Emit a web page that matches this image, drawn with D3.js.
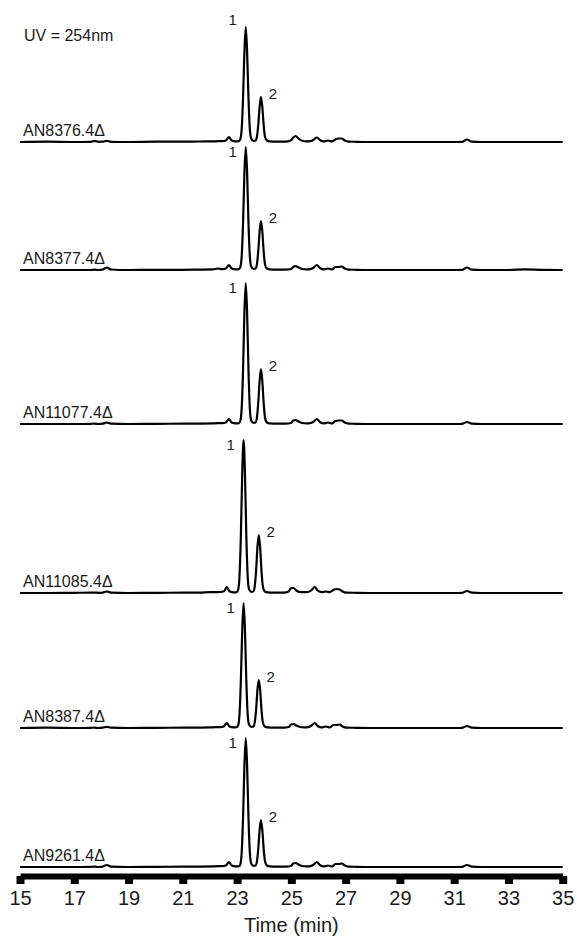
<!DOCTYPE html>
<html>
<head>
<meta charset="utf-8">
<script src="https://cdn.jsdelivr.net/npm/d3@7"></script>
<style>
  body { margin: 0; background: #fff; }
  svg { display: block; font-family: "Liberation Sans", Arial, sans-serif; }
</style>
</head>
<body>
<svg id="chart"></svg>
<script>
const TIME_A = [15, 16, 17, 17.6, 17.75, 17.9, 18.05, 18.2, 18.35, 19, 20, 21, 21.6,
  22.1, 22.3, 22.45, 22.6, 22.7, 22.8, 22.95, 23.07, 23.12, 23.17, 23.22, 23.27, 23.32,
  23.37, 23.42, 23.47, 23.52, 23.6, 23.68, 23.73, 23.78, 23.83, 23.88, 23.93, 23.98,
  24.03, 24.1, 24.2, 24.45, 24.8, 24.98, 25.07, 25.16, 25.26, 25.4, 25.55, 25.7, 25.83,
  25.94, 26.05, 26.2, 26.35, 26.5, 26.62, 26.75, 26.86, 26.97, 27.1, 27.4, 28, 29, 30,
  31, 31.3, 31.47, 31.65, 32, 33, 33.6, 34.2, 35];
// same grid, cluster eluting slightly earlier (AN11085, AN8387)
const TIME_B = [15, 16, 17, 17.6, 17.75, 17.9, 18.05, 18.2, 18.35, 19, 20, 21, 21.6,
  22.02, 22.22, 22.37, 22.52, 22.62, 22.72, 22.87, 22.99, 23.04, 23.09, 23.14, 23.19, 23.24,
  23.29, 23.34, 23.39, 23.44, 23.52, 23.6, 23.65, 23.7, 23.75, 23.8, 23.85, 23.9,
  23.95, 24.02, 24.12, 24.37, 24.72, 24.9, 24.99, 25.08, 25.18, 25.32, 25.47, 25.62, 25.75,
  25.86, 25.97, 26.12, 26.27, 26.42, 26.54, 26.67, 26.78, 26.89, 27.02, 27.4, 28, 29, 30,
  31, 31.3, 31.47, 31.65, 32, 33, 33.6, 34.2, 35];

const SAMPLES = ['AN8376.4\u0394', 'AN8377.4\u0394', 'AN11077.4\u0394', 'AN11085.4\u0394', 'AN8387.4\u0394', 'AN9261.4\u0394'];

// absorbance (arbitrary units)
const AN8376 = [0, 0.3, 0, 0.2, 1, 0.2, 0.3, 1.2, 0.2, 0, 0.3, 0.3, 0.5,
  0.6, 0.8, 0.8, 1.8, 5, 1.5, 0.6, 0.8, 3, 13, 44, 90, 115,
  90, 44, 13, 3.5, 1.2, 1.5, 5, 17, 35, 45, 35, 17,
  5, 1.5, 0.6, 0.4, 0.4, 1.5, 4.5, 6, 3.5, 1.2, 0.6, 0.8, 2.5,
  4.5, 2, 0.6, 1.5, 0.6, 2.5, 3.5, 3.5, 1.5, 0.4, 0.2, 0, 0, 0,
  0, 0.2, 2.5, 0.3, 0, 0, 0, 0, 0];
const AN8377 = [0, 0, 0, 0, 0.3, 0, 0.5, 2.5, 0.5, 0, 0.2, 0.2, 0.4,
  0.6, 1.5, 0.8, 1.8, 5, 1.5, 0.6, 0.8, 3, 14, 47, 97, 123,
  97, 47, 14, 3.5, 1.2, 1.5, 5.6, 18.7, 38.5, 49, 38.5, 18.7,
  5.6, 1.5, 0.6, 0.4, 0.4, 1, 3, 4, 2.5, 1, 0.6, 0.8, 2.5,
  5, 2, 0.6, 1.5, 0.6, 3, 3, 3.5, 1.5, 0.4, 0.2, 0, 0, 0,
  0, 0.2, 2.5, 0.3, 0, 0, 0.6, 0.2, 0];
const AN11077 = [0, 0, 0, 0.2, 0.3, 0, 0.3, 1.5, 0.3, 0, 0.2, 0.3, 0.4,
  0.6, 0.8, 0.8, 1.8, 5, 1.5, 0.6, 0.8, 3.2, 16, 54, 111, 141,
  111, 54, 16, 3.5, 1.2, 1.5, 6.3, 21, 43, 55, 43, 21,
  6.3, 1.5, 0.6, 0.4, 0.4, 1, 3.5, 4, 2.5, 1, 0.6, 0.8, 2.5,
  5, 2, 0.6, 1.5, 0.6, 3, 3.5, 3.5, 1.5, 0.4, 0.2, 0, 0, 0,
  0, 0.2, 2, 0.3, 0, 0, 0, 0, 0];
const AN11085 = [0, 0, 0.2, 0.3, 0.4, 0.2, 0.4, 1.5, 0.3, 0, 0.2, 0.3, 0.4,
  0.8, 0.8, 1, 1.8, 6, 1.8, 0.6, 0.8, 3.2, 17.4, 58, 120, 153,
  120, 58, 17.4, 3.8, 1.2, 1.5, 6.6, 22, 45.6, 58, 45.6, 22,
  6.6, 1.5, 0.6, 0.4, 0.4, 1.5, 5, 5, 2.5, 1, 0.8, 1, 3,
  6, 2.5, 0.8, 1.5, 0.8, 3, 4, 3.5, 1.5, 0.4, 0.2, 0, 0, 0,
  0, 0.2, 2, 0.3, 0, 0, 0, 0, 0];
const AN8387 = [0, 0.3, 0, 0.2, 0.3, 0, 0.3, 1.2, 0.3, 0, 0.2, 0.3, 0.4,
  0.6, 0.8, 0.8, 1.8, 5, 1.5, 0.6, 0.8, 2.6, 14, 48, 98, 125,
  98, 48, 14, 3.5, 1.2, 1.5, 5.5, 18, 38, 48, 38, 18,
  5.5, 1.5, 0.6, 0.4, 0.4, 1, 3.5, 4, 2.5, 1, 0.6, 0.8, 2.5,
  5, 2, 0.6, 1.5, 0.6, 3, 3, 3.5, 1.5, 0.4, 0.2, 0, 0, 0,
  0, 0.2, 2, 0.3, 0, 0, 0, 0, 0];
const AN9261 = [0, 0, 0, 0.2, 0.3, 0, 0.4, 2, 0.4, 0, 0.2, 0.3, 0.4,
  0.6, 0.8, 0.8, 1.8, 5, 1.5, 0.6, 0.8, 2.7, 14.7, 49, 101, 129,
  101, 49, 14.7, 3.5, 1.2, 1.5, 5.4, 18, 37, 47, 37, 18,
  5.4, 1.5, 0.6, 0.4, 0.4, 1, 3.5, 4, 2.5, 1, 0.6, 0.8, 2.5,
  5, 2, 0.6, 1.5, 0.6, 3, 3, 3.5, 1.5, 0.4, 0.2, 0, 0, 0,
  0, 0.2, 2, 0.3, 0, 0, 0, 0, 0];

const SERIES = [AN8376, AN8377, AN11077, AN11085, AN8387, AN9261];
const SERIES_TIME = [TIME_A, TIME_A, TIME_A, TIME_B, TIME_B, TIME_A];
// vertical stacking offset of each trace (same units as absorbance)
const TRACE_OFFSET = [725, 597, 443, 274, 139, 0];
const TICK_VALUES = [15, 17, 19, 21, 23, 25, 27, 29, 31, 33, 35];

const WIDTH = 577;
const HEIGHT = 938;
const AXIS_Y = 876;

const x = d3.scaleLinear()
    .domain([15, 35])
    .range([20, 562.7]);

const y = d3.scaleLinear()
    .domain([0, 867])
    .range([867, 0]);

const svg = d3.select('#chart')
    .attr('width', WIDTH)
    .attr('height', HEIGHT);

svg.append('rect').attr('width', WIDTH).attr('height', HEIGHT).attr('fill', '#fff');

const line = d3.line()
    .curve(d3.curveMonotoneX);

const traces = svg.selectAll('.trace')
    .data(SERIES)
    .enter()
    .append('g')
    .classed('trace', true);

traces.append('path')
    .attr('d', (vals, i) => line(vals.map((v, j) => [x(SERIES_TIME[i][j]), y(v + TRACE_OFFSET[i])])))
    .attr('fill', 'none')
    .attr('stroke', '#000')
    .attr('stroke-width', 2.2)
    .attr('stroke-linejoin', 'round');

// sample names
traces.append('text')
    .text((d, i) => SAMPLES[i])
    .attr('x', x(15) + 3)
    .attr('y', (d, i) => y(TRACE_OFFSET[i]) - 6)
    .attr('font-size', 16)
    .attr('fill', '#1a1a1a');

// peak numbers
function apex(vals, i, from, to) {
    let best = -1;
    vals.forEach((v, j) => {
        const t = SERIES_TIME[i][j];
        if (t >= from && t <= to && (best < 0 || v > vals[best])) best = j;
    });
    return { t: SERIES_TIME[i][best], v: vals[best] };
}

traces.append('text')
    .text('1')
    .attr('x', (d, i) => x(apex(d, i, 23, 23.6).t) - 13)
    .attr('y', (d, i) => y(apex(d, i, 23, 23.6).v + TRACE_OFFSET[i]) + (i === 0 ? -7 : 5))
    .attr('dy', '0.35em')
    .attr('text-anchor', 'middle')
    .attr('font-size', 15)
    .attr('fill', '#1a1a1a');

traces.append('text')
    .text('2')
    .attr('x', (d, i) => x(apex(d, i, 23.6, 24.2).t) + 12)
    .attr('y', (d, i) => y(apex(d, i, 23.6, 24.2).v + TRACE_OFFSET[i]) - 3)
    .attr('dy', '0.35em')
    .attr('text-anchor', 'middle')
    .attr('font-size', 15)
    .attr('fill', '#1a1a1a');

svg.append('text')
    .text('UV = 254nm')
    .attr('x', 24)
    .attr('y', 41)
    .attr('font-size', 16)
    .attr('fill', '#1a1a1a');

// thick time axis
const axis = svg.append('g')
    .attr('transform', `translate(0,${AXIS_Y})`)
    .call(d3.axisBottom(x).tickValues(TICK_VALUES).tickSizeInner(8).tickSizeOuter(0).tickPadding(7));

axis.select('.domain')
    .attr('stroke', '#000')
    .attr('stroke-width', 6);
axis.selectAll('.tick line')
    .attr('stroke', '#000')
    .attr('stroke-width', 8);
axis.selectAll('.tick text')
    .attr('font-size', 20)
    .attr('font-family', '"Liberation Sans", Arial, sans-serif')
    .attr('fill', '#1a1a1a');

svg.append('text')
    .text('Time (min)')
    .attr('x', (x(15) + x(35)) / 2)
    .attr('y', 932)
    .attr('text-anchor', 'middle')
    .attr('font-size', 20)
    .attr('fill', '#1a1a1a');
</script>
</body>
</html>
